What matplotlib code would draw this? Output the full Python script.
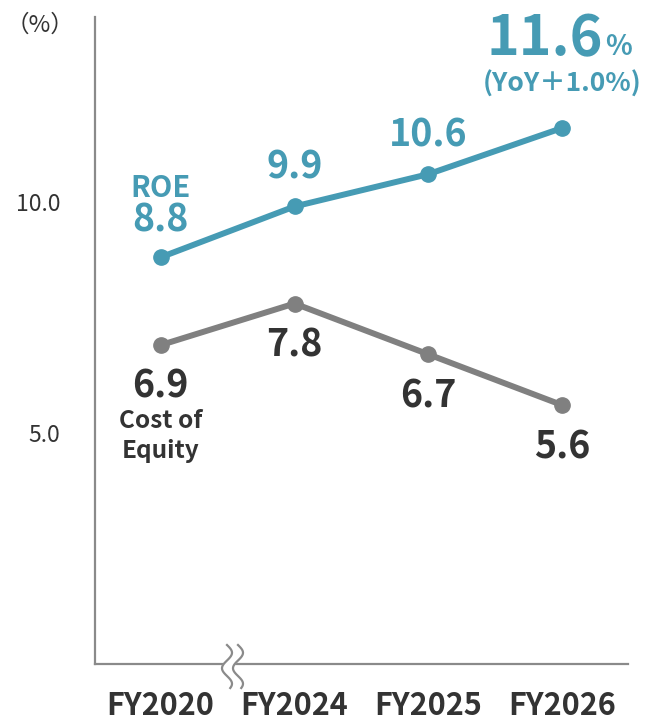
import matplotlib
matplotlib.use("Agg")
import matplotlib.pyplot as plt
import numpy as np

plt.rcParams['font.family'] = ['Noto Sans CJK JP', 'DejaVu Sans']

years = ["FY2020", "FY2024", "FY2025", "FY2026"]
roe = [8.8, 9.9, 10.6, 11.6]
cost_of_equity = [6.9, 7.8, 6.7, 5.6]
ytick_vals = [5.0, 10.0]
ytick_labels = ["5.0", "10.0"]

TEAL = "#469BB4"
GRAY = "#808080"
DARK = "#333333"
AXIS = "#8a8a8a"
PX = 0.72  # points per pixel at dpi 100

fig = plt.figure(figsize=(6.45, 7.22), dpi=100)
ax = fig.add_axes([95 / 645, 1 - 664 / 722, (628 - 95) / 645, (664 - 17) / 722])

x = np.arange(len(years))
ax.plot(x, cost_of_equity, color=GRAY, lw=4.3, marker="o", ms=11, solid_capstyle="round", zorder=3)
ax.plot(x, roe, color=TEAL, lw=4.3, marker="o", ms=11, solid_capstyle="round", zorder=4)

ax.set_xlim(-0.49, 3.49)
ax.set_ylim(0, 14.0)

for s in ["top", "right"]:
    ax.spines[s].set_visible(False)
for s in ["left", "bottom"]:
    ax.spines[s].set_color(AXIS)
    ax.spines[s].set_linewidth(1.6)

ax.set_yticks(ytick_vals)
ax.set_yticklabels(ytick_labels, fontsize=16.5, color=DARK)
ax.set_xticks(x)
ax.set_xticklabels(years, fontsize=22, fontweight="bold", color=DARK)
ax.tick_params(axis="y", length=0, pad=25)
ax.tick_params(axis="x", length=0, pad=19)

fig.text(40 / 645, 1 - 25 / 722, "（%）", fontsize=17, color=DARK, ha="center", va="center")


def label(xi, yi, txt, dy_px, size, color, dx_px=0, ha="center"):
    ax.annotate(txt, (xi, yi), xytext=(dx_px * PX, dy_px * PX), textcoords="offset points",
                ha=ha, va="baseline", fontsize=size, fontweight="bold", color=color)


# ROE labels
label(x[0], roe[0], "ROE", 60, 21, TEAL)
label(x[0], roe[0], f"{roe[0]:.1f}", 26, 27, TEAL)
label(x[1], roe[1], f"{roe[1]:.1f}", 28, 27, TEAL)
label(x[2], roe[2], f"{roe[2]:.1f}", 28, 27, TEAL)
label(x[3], roe[3], f"{roe[3]:.1f}", 73, 40, TEAL, dx_px=41, ha="right")
label(x[3], roe[3], "%", 73, 20, TEAL, dx_px=43, ha="left")
label(x[3], roe[3], "(YoY＋1.0%)", 36, 19, TEAL)

# Cost of equity labels
label(x[0], cost_of_equity[0], f"{cost_of_equity[0]:.1f}", -52, 27, DARK)
label(x[0], cost_of_equity[0], "Cost of", -83, 17.5, DARK)
label(x[0], cost_of_equity[0], "Equity", -113, 17.5, DARK)
for i in range(1, 4):
    label(x[i], cost_of_equity[i], f"{cost_of_equity[i]:.1f}", -53, 27, DARK)

# axis break mark
yy = np.linspace(645, 688, 60)
xs = 227 + 5 * np.sin(2 * np.pi * (yy - 645) / 31)
fx = lambda px: px / 645
fy = lambda py: 1 - py / 722
gap = np.concatenate([xs, (xs + 11)[::-1]])
gy = np.concatenate([yy, yy[::-1]])
mask_y = (gy > 655) & (gy < 675)
fig.patches.append(plt.Polygon(np.column_stack([fx(gap[mask_y]), fy(gy[mask_y])]),
                               closed=True, transform=fig.transFigure, color="white", zorder=5))
for off in (0, 11):
    fig.add_artist(plt.Line2D(fx(xs + off), fy(yy), color=AXIS, lw=1.6, zorder=6))

fig.savefig("out.png", dpi=100)
